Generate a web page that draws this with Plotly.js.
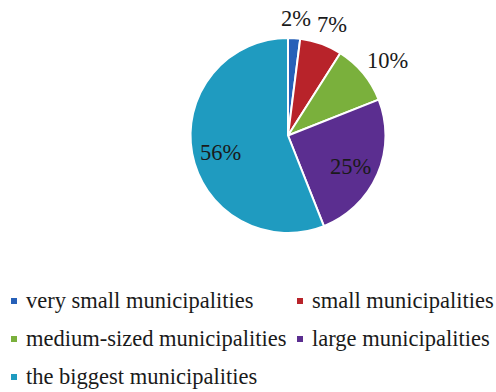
<!DOCTYPE html>
<html>
<head>
<meta charset="utf-8">
<script src="https://cdn.plot.ly/plotly-3.0.1.min.js"></script>
<style>html,body{margin:0;padding:0;background:#fff;}#chart{width:496px;height:392px;}</style>
</head>
<body>
<div id="chart"></div>
<script>
const categories = ["very small municipalities", "small municipalities", "medium-sized municipalities", "large municipalities", "the biggest municipalities"];
const shares = [2, 7, 10, 25, 56];
const colors = ["#2660b8", "#b8232a", "#7ab03c", "#5b2e90", "#1f9bc0"];
const labelInside = [false, false, false, true, true];

const W = 496, H = 392;
const font = '"Liberation Serif", "DejaVu Serif", serif';
const txtColor = "#1a1a1a";

// pie geometry (pixels)
const cx = 288, cy = 135.5, R = 97.5;

const pie = {
  type: "pie",
  labels: categories,
  values: shares,
  sort: false,
  direction: "clockwise",
  rotation: 0,
  marker: {colors: colors, line: {color: "#ffffff", width: 2}},
  textinfo: "none",
  domain: {x: [(cx - R) / W, (cx + R) / W], y: [1 - (cy + R) / H, 1 - (cy - R) / H]},
  hoverinfo: "skip",
  showlegend: false
};

const annotations = [];
// percentage labels placed from the slice mid-angles
const total = shares.reduce((a, b) => a + b, 0);
let cum = 0;
shares.forEach((v, i) => {
  const mid = (cum + v / 2) / total * 2 * Math.PI;
  cum += v;
  const sx = Math.sin(mid), sy = -Math.cos(mid);
  let px, py;
  if (labelInside[i]) {
    px = cx + 0.7 * R * sx;
    py = cy + 0.7 * R * sy + 4;
  } else {
    const g = 11, hw = 20, hh = 9;
    px = cx + (R + g) * sx + hw * sx;
    py = cy + (R + g) * sy + hh * sy;
  }
  annotations.push({
    xref: "paper", yref: "paper", x: px / W, y: 1 - py / H,
    xanchor: "center", yanchor: "middle", text: v + "%", showarrow: false,
    font: {family: font, size: 22.5, color: txtColor}, borderpad: 0
  });
});

// legend built from categories/colors as annotations (2 columns)
const col0 = 11, colW = 286, row0 = 301, rowH = 38;
categories.forEach((c, i) => {
  const col = i % 2, row = Math.floor(i / 2);
  const mx = col0 + col * colW;
  const my = row0 + row * rowH;
  annotations.push({
    xref: "paper", yref: "paper", x: mx / W, y: 1 - my / H,
    xanchor: "left", yanchor: "middle", text: " ", showarrow: false,
    width: 6, height: 6, bgcolor: colors[i], borderpad: 0, borderwidth: 0
  });
  annotations.push({
    xref: "paper", yref: "paper", x: (mx + 14) / W, y: 1 - (my - 1) / H,
    xanchor: "left", yanchor: "middle", text: c, showarrow: false,
    font: {family: font, size: 22.5, color: txtColor}, borderpad: 0
  });
});

const layout = {
  width: W, height: H,
  margin: {l: 0, r: 0, t: 0, b: 0},
  paper_bgcolor: "#ffffff",
  font: {family: font},
  showlegend: false,
  annotations: annotations
};

Plotly.newPlot("chart", [pie], layout, {staticPlot: true, displayModeBar: false});
</script>
</body>
</html>
